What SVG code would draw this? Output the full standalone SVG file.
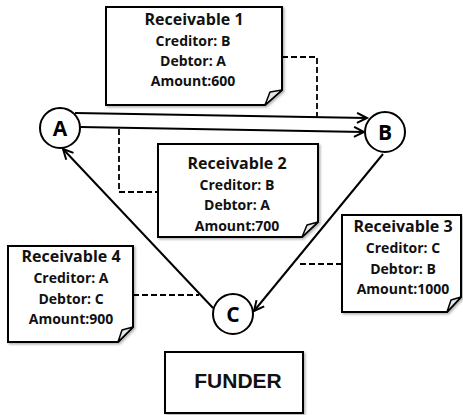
<svg xmlns="http://www.w3.org/2000/svg" width="463" height="415" viewBox="0 0 463 415">
<style>
.box{fill:#fff;stroke:#000;stroke-width:2;}
.fold{fill:#e6e6e6;stroke:#000;stroke-width:1.5;stroke-linejoin:round;}
.t{font-family:"Open Sans","Liberation Sans",sans-serif;font-weight:bold;text-anchor:middle;fill:#111;}
.h{font-size:16px;}
.b{font-size:14px;}
.node{fill:#fff;stroke:#000;stroke-width:2;}
.nl{font-family:"Open Sans","Liberation Sans",sans-serif;font-weight:bold;font-size:21px;text-anchor:middle;fill:#000;}
.edge{fill:none;stroke:#000;stroke-width:2;marker-end:url(#arr);}
.dash{fill:none;stroke:#000;stroke-width:1.8;stroke-dasharray:6,3;}
</style>
<defs>
<marker id="arr" markerUnits="userSpaceOnUse" markerWidth="14" markerHeight="14" refX="11" refY="6" orient="auto">
<path d="M1,1 L11,6 L1,11" fill="none" stroke="#000" stroke-width="2"/>
</marker>
<filter id="sh" x="-10%" y="-10%" width="130%" height="130%">
<feDropShadow dx="1.5" dy="1.5" stdDeviation="1" flood-color="#000" flood-opacity="0.3"/>
</filter>
</defs>

<g id="connectors">
<line class="edge" x1="75" y1="113" x2="367" y2="118"/>
<line class="edge" x1="80" y1="127" x2="364" y2="132"/>
<line class="edge" x1="213" y1="308" x2="63" y2="149"/>
<line class="edge" x1="383" y1="154" x2="254" y2="311"/>
<path class="dash" d="M282,57 H317 V117"/>
<path class="dash" d="M119,129 V192 H158"/>
<path class="dash" d="M300,264 H342"/>
<path class="dash" d="M133,295 H199"/>
</g>

<g id="receivable1">
<path class="box" filter="url(#sh)" d="M106,7 H282 V90 L265,105 H106 Z"/>
<path class="fold" d="M265,105 L270,92 L282,90 Z"/>
<text class="t h" x="194" y="25">Receivable 1</text>
<text class="t b" x="193" y="46">Creditor: B</text>
<text class="t b" x="193" y="66">Debtor: A</text>
<text class="t b" x="193" y="86">Amount:600</text>
</g>

<g id="receivable2">
<path class="box" filter="url(#sh)" d="M158,144 H318 V222 L302,237 H158 Z"/>
<path class="fold" d="M302,237 L307,225 L318,222 Z"/>
<text class="t h" x="237" y="169">Receivable 2</text>
<text class="t b" x="237" y="190">Creditor: B</text>
<text class="t b" x="237" y="210">Debtor: A</text>
<text class="t b" x="237" y="231">Amount:700</text>
</g>

<g id="receivable3">
<path class="box" filter="url(#sh)" d="M342,215 H461 V297 L447,312 H342 Z"/>
<path class="fold" d="M447,312 L451,300 L461,297 Z"/>
<text class="t h" x="403" y="232">Receivable 3</text>
<text class="t b" x="403" y="253">Creditor: C</text>
<text class="t b" x="403" y="274">Debtor: B</text>
<text class="t b" x="403" y="294">Amount:1000</text>
</g>

<g id="receivable4">
<path class="box" filter="url(#sh)" d="M8,246 H133 V327 L118,342 H8 Z"/>
<path class="fold" d="M118,342 L122,330 L133,327 Z"/>
<text class="t h" x="71" y="262">Receivable 4</text>
<text class="t b" x="71" y="283">Creditor: A</text>
<text class="t b" x="71" y="304">Debtor: C</text>
<text class="t b" x="71" y="324">Amount:900</text>
</g>

<g id="nodeA">
<circle class="node" cx="60" cy="128" r="20"/>
<text class="nl" x="60" y="136">A</text>
</g>
<g id="nodeB">
<circle class="node" cx="385" cy="132" r="20"/>
<text class="nl" x="385" y="140">B</text>
</g>
<g id="nodeC">
<circle class="node" cx="233" cy="314" r="20"/>
<text class="nl" x="233" y="322">C</text>
</g>

<g id="funder">
<rect class="box" filter="url(#sh)" x="165" y="352" width="138" height="61"/>
<text x="238" y="388" style="font-family:'Liberation Sans',Arial,sans-serif;font-weight:bold;font-size:21px;text-anchor:middle;fill:#111">FUNDER</text>
</g>
</svg>
